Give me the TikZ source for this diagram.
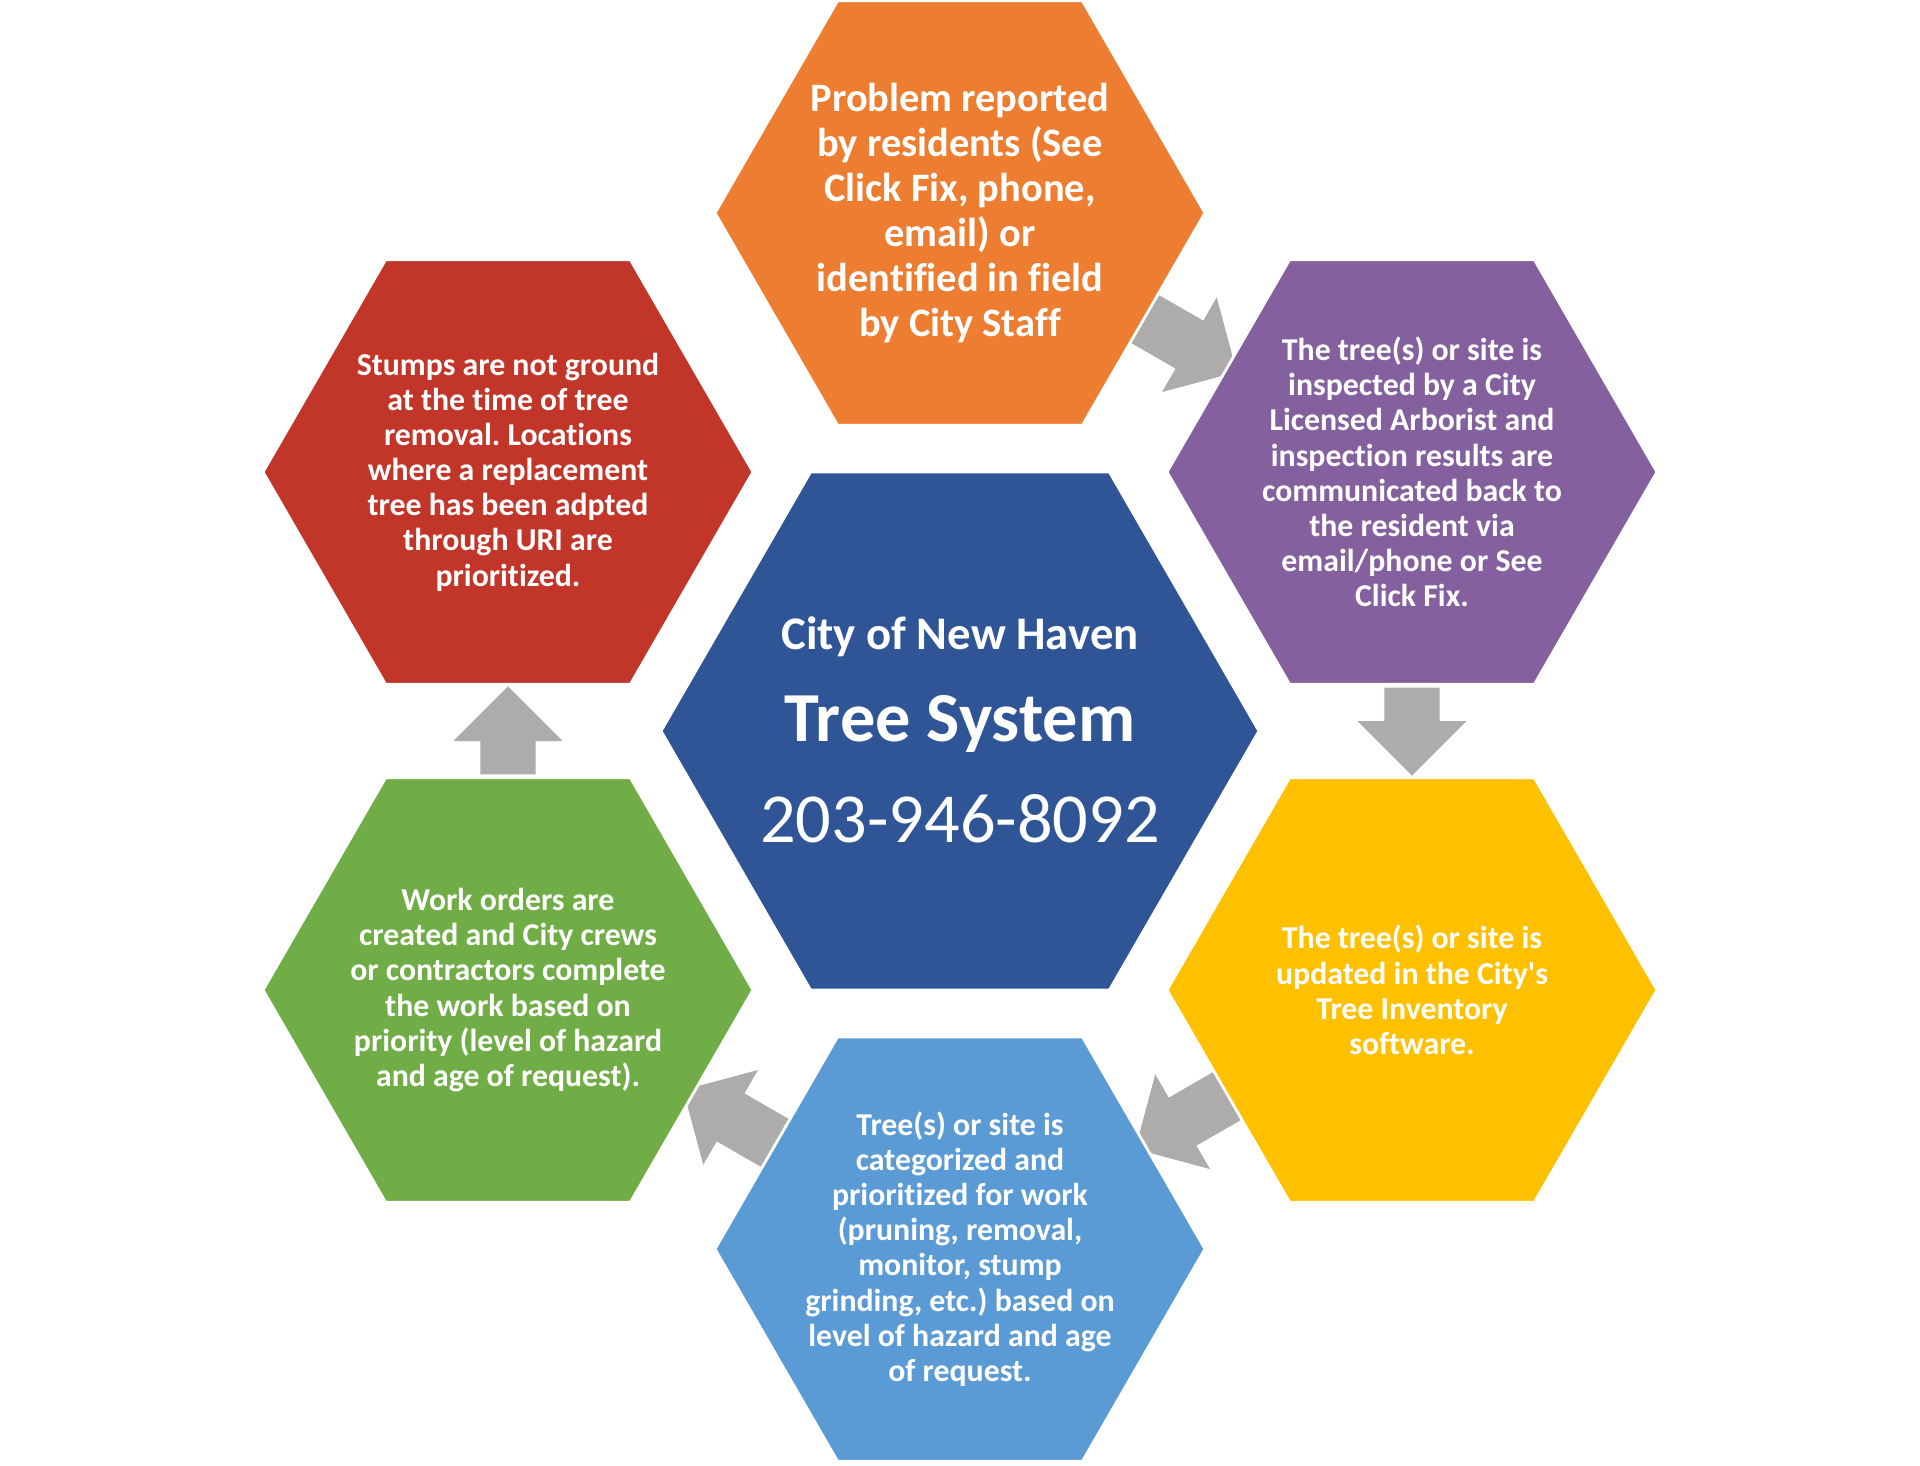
\documentclass[tikz,border=0pt]{standalone}
\usepackage{fontspec}
\setmainfont{Carlito}[Ligatures=CommonOff]
\usetikzlibrary{shapes,positioning,calc,backgrounds}

\definecolor{hexorange}{RGB}{237,125,49}
\definecolor{hexpurple}{RGB}{133,96,158}
\definecolor{hexyellow}{RGB}{255,192,0}
\definecolor{hexlblue}{RGB}{91,155,213}
\definecolor{hexgreen}{RGB}{112,173,71}
\definecolor{hexred}{RGB}{193,54,41}
\definecolor{hexblue}{RGB}{47,85,151}
\definecolor{arrgray}{RGB}{174,171,171}

\frenchspacing
\begin{document}
\begin{tikzpicture}[
  hexbox/.style={regular polygon,regular polygon sides=6,minimum size=4.9cm,inner sep=0pt,outer sep=0pt,draw=white,line width=0.8pt},
  steptext/.style={text=white,align=center,inner sep=0pt,font=\bfseries\fontsize{9.05}{10}\selectfont},
  blockarrow/.style={single arrow,fill=arrgray,draw=none,inner xsep=0pt,inner ysep=0.27cm,minimum height=0.88cm,single arrow head extend=0.27cm,anchor=tail},
  slantarrow/.style={blockarrow,minimum height=1.06cm}]
\useasboundingbox (-9.6,-7.34) rectangle (9.6,7.31);

% Hub
\node[hexbox,fill=hexblue,minimum size=5.98cm] (hub) at (0,0) {};
\node[text=white,inner sep=0pt,anchor=base,font=\bfseries\fontsize{13.3}{15}\selectfont] (city) at (0,0.82) {City of New Haven};
\node[text=white,inner sep=0pt,anchor=base,font=\bfseries\fontsize{20}{23}\selectfont] (title) at (0,-0.10) {Tree System};
\node[text=white,inner sep=0pt,anchor=base,font=\fontsize{20}{23}\selectfont] (phone) at (0,-1.11) {203-946-8092};

% Cycle steps
\node[hexbox,fill=hexorange] (report) at (0,5.18) {};
\node[hexbox,fill=hexpurple] (inspect) at (4.52,2.59) {};
\node[hexbox,fill=hexyellow] (update) at (4.52,-2.59) {};
\node[hexbox,fill=hexlblue] (rank) at (0,-5.18) {};
\node[hexbox,fill=hexgreen] (work) at (-4.52,-2.59) {};
\node[hexbox,fill=hexred] (stump) at (-4.52,2.59) {};

\node[steptext,font=\bfseries\fontsize{11.5}{12.75}\selectfont] (report-t) at (report) {Problem reported\\by residents (See\\Click Fix, phone,\\email) or\\identified in field\\by City Staff};
\node[steptext] (inspect-t) at (inspect) {The tree(s) or site is\\inspected by a City\\Licensed Arborist and\\inspection results are\\communicated back to\\the resident via\\email/phone or See\\Click Fix.};
\node[steptext] (update-t) at (update) {The tree(s) or site is\\updated in the City\textquotesingle s\\Tree Inventory\\software.};
\node[steptext] (rank-t) at (rank) {Tree(s) or site is\\categorized and\\prioritized for work\\(pruning, removal,\\monitor, stump\\grinding, etc.) based on\\level of hazard and age\\of request.};
\node[steptext] (work-t) at (work) {Work orders are\\created and City crews\\or contractors complete\\the work based on\\priority (level of hazard\\and age of request).};
\node[steptext] (stump-t) at (stump) {Stumps are not ground\\at the time of tree\\removal. Locations\\where a replacement\\tree has been adpted\\through URI are\\prioritized.};

% Arrows between steps (behind the hexagons, tips slip under the next one)
\begin{scope}[on background layer]
\node[slantarrow,rotate=-30] (a1) at ($(report)!0.5!(inspect)!0.48cm!(report)$) {};
\node[blockarrow,rotate=-90] (a2) at ($(inspect)!0.5!(update)!0.44cm!(inspect)$) {};
\node[slantarrow,rotate=210] (a3) at ($(update)!0.5!(rank)!0.48cm!(update)$) {};
\node[slantarrow,rotate=150] (a4) at ($(rank)!0.5!(work)!0.48cm!(rank)$) {};
\node[blockarrow,rotate=90] (a5) at ($(work)!0.5!(stump)!0.44cm!(work)$) {};
\end{scope}
\end{tikzpicture}
\end{document}
